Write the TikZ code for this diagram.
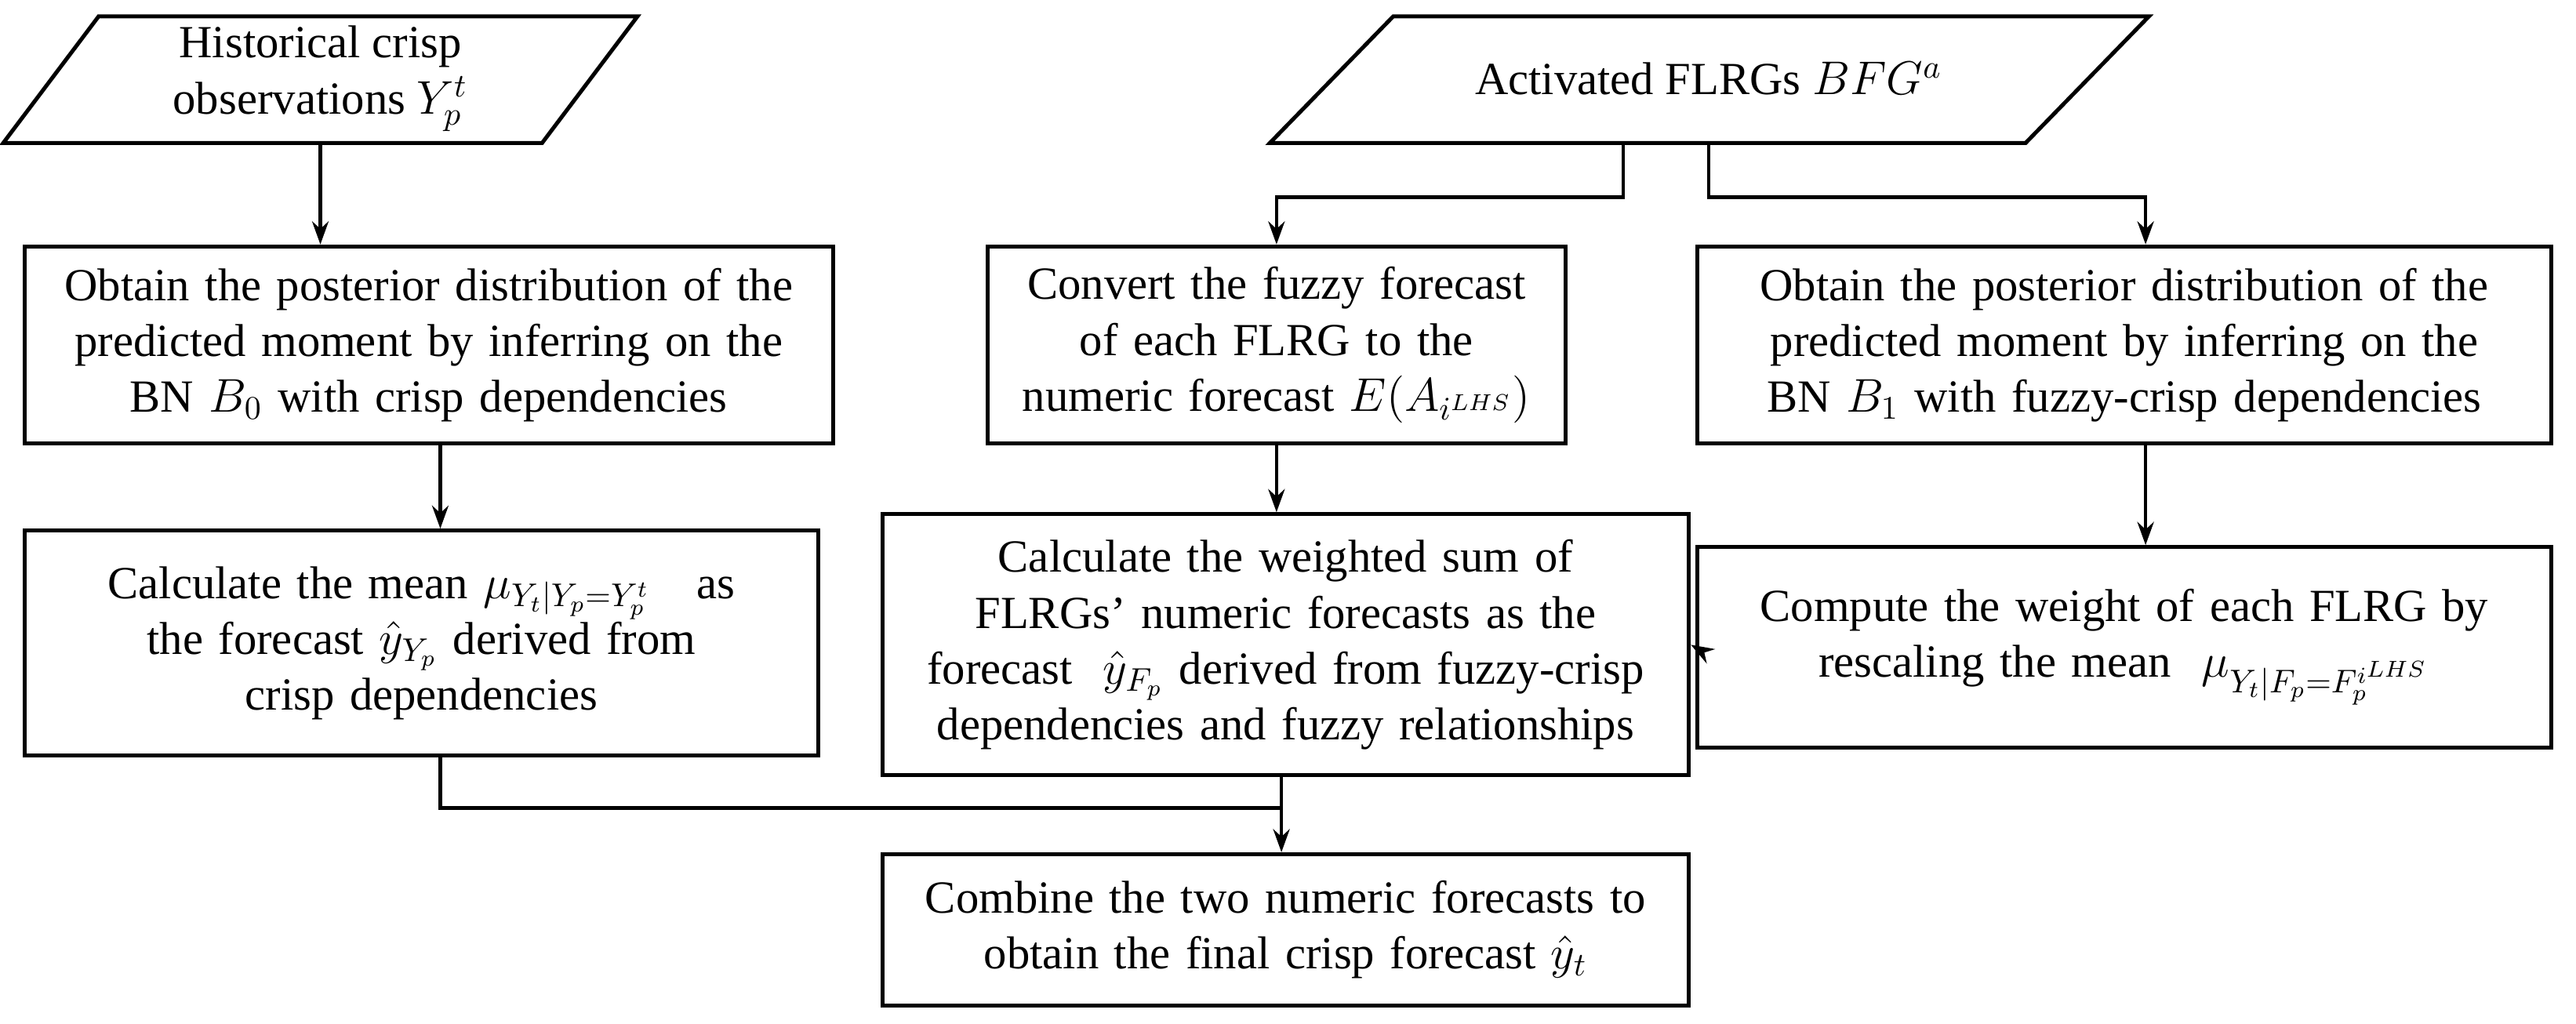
\documentclass[tikz,border=0pt]{standalone}
\usepackage{fontspec}
\setmainfont{Liberation Serif}
\usetikzlibrary{shapes.geometric,arrows.meta}
\begin{document}
\begin{tikzpicture}[x=0.5pt,y=-0.5pt,
  box/.style={draw,line width=1.2pt,align=center,inner sep=0pt,font=\fontsize{14}{17}\selectfont},
  par/.style={draw,line width=1.2pt,fill=white},
  ar/.style={line width=1.1pt,-{Stealth[length=7pt,width=5pt]}},
  ln/.style={line width=1.1pt}]
\useasboundingbox (0,0) rectangle (1568,623);
% parallelograms
\draw[par] (60,10) -- (388,10) -- (330,87) -- (2,87) -- cycle;
\node[box,draw=none] (p1) at (195,48) {Historical crisp\\observations $Y_p^t$};
\coordinate (p1b) at (195,87);
\draw[par] (848,10) -- (1308,10) -- (1233,87) -- (773,87) -- cycle;
\node[box,draw=none] (p2) at (1040,48) {Activated FLRGs $BFG^a$};
\coordinate (p2l) at (988,87);
\coordinate (p2r) at (1040,87);
% boxes
\node[box,text width=488*0.5pt,minimum width=492*0.5pt,minimum height=120*0.5pt] (A) at (261,210) {Obtain the posterior distribution of the\\predicted moment by inferring on the\\BN $B_0$ with crisp dependencies};
\node[box,text width=340*0.5pt,minimum width=352*0.5pt,minimum height=120*0.5pt] (B) at (777,210) {Convert the fuzzy forecast\\of each FLRG to the\\numeric forecast $E(A_{i^{LHS}})$};
\node[box,text width=510*0.5pt,minimum width=520*0.5pt,minimum height=120*0.5pt] (C) at (1293,210) {Obtain the posterior distribution of the\\predicted moment by inferring on the\\BN $B_1$ with fuzzy-crisp dependencies};
\node[box,text width=470*0.5pt,minimum width=483*0.5pt,minimum height=137*0.5pt] (D) at (256.5,391.5) {Calculate the mean $\mu_{Y_t|Y_p=Y_p^t}$\quad as\\the forecast $\hat{y}_{Y_p}$ derived from\\crisp dependencies};
\node[box,text width=480*0.5pt,minimum width=491*0.5pt,minimum height=159*0.5pt] (E) at (782.5,392.5) {Calculate the weighted sum of\\FLRGs' numeric forecasts as the\\forecast\ \ $\hat{y}_{F_p}$ derived from fuzzy-crisp\\dependencies and fuzzy relationships};
\node[box,text width=510*0.5pt,minimum width=520*0.5pt,minimum height=122*0.5pt] (F) at (1293,394) {Compute the weight of each FLRG by\\rescaling the mean\ \ $\mu_{Y_t|F_p=F_p^{i^{LHS}}}$};
\node[box,text width=480*0.5pt,minimum width=491*0.5pt,minimum height=92*0.5pt] (G) at (782.5,566) {Combine the two numeric forecasts to\\obtain the final crisp forecast $\hat{y}_t$};
% connectors
\draw[ar] (p1b) -- (A.north -| p1b);
\draw[ar] (A.south -| 268,0) -- (D.north -| 268,0);
\draw[ar] (p2l) |- (777,120) -- (B.north);
\draw[ar] (p2r) |- (1306,120) -- (C.north -| 1306,0);
\draw[ar] (B.south) -- (E.north -| B.south);
\draw[ar] (C.south -| 1306,0) -- (F.north -| 1306,0);
\draw[ar] (F.west) -- (E.east);
\coordinate (j) at (780,492);
\draw[ln] (D.south -| 268,0) |- (j);
\draw[ln] (E.south -| j) -- (j);
\draw[ar] (j) -- (G.north -| j);
\end{tikzpicture}
\end{document}
